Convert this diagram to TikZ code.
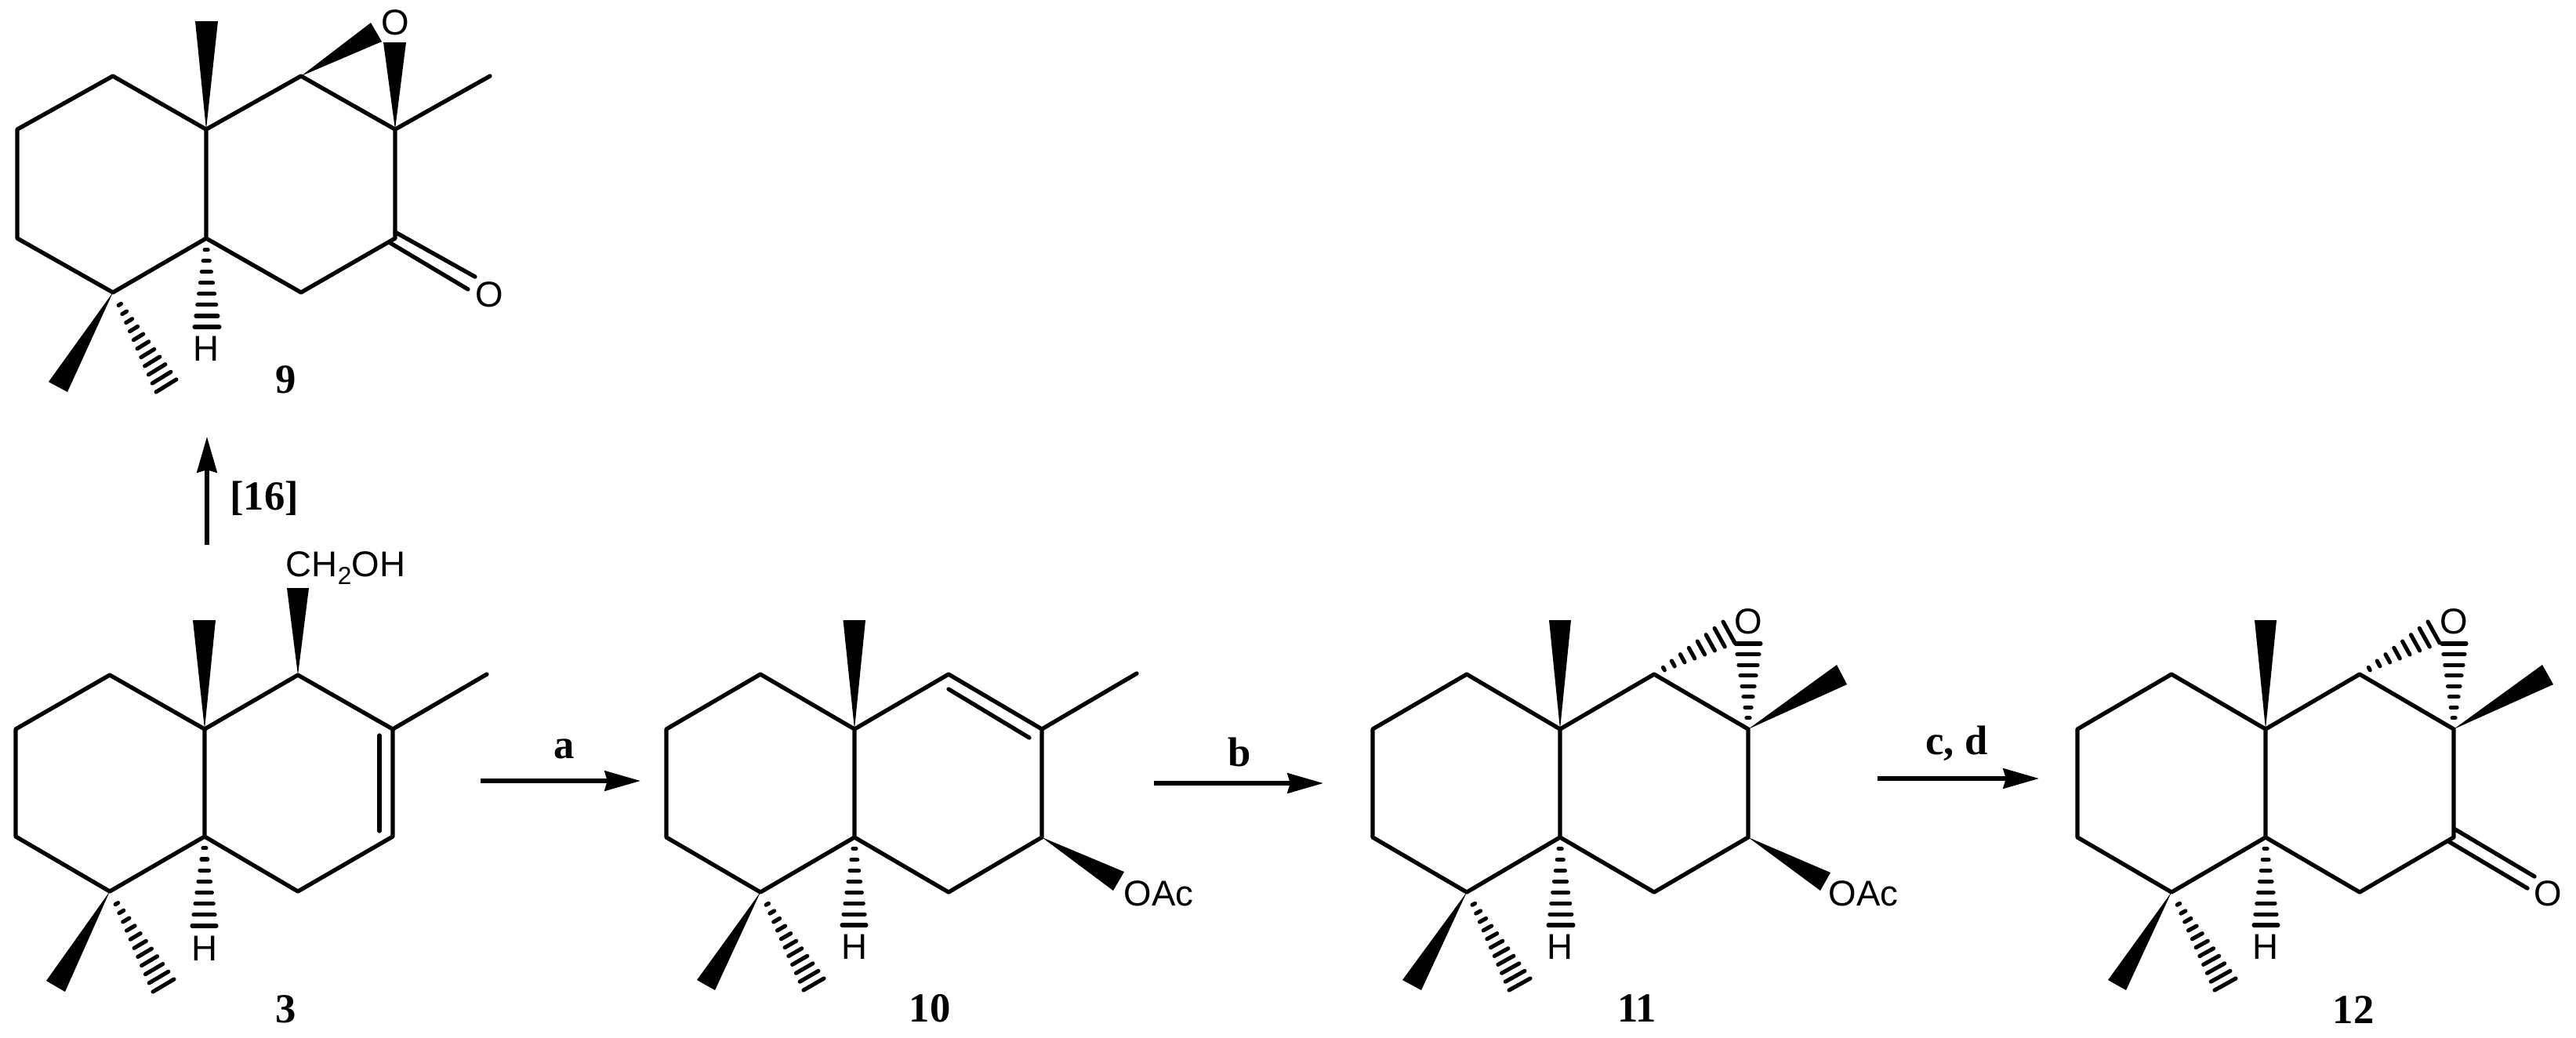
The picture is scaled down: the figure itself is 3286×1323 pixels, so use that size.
\documentclass[tikz,border=0pt]{standalone}
\usepackage{fontspec}
\setmainfont{Liberation Serif}
\newfontfamily\atomfont{Liberation Sans}
\usetikzlibrary{arrows.meta,calc}
\tikzset{
  bond/.style={line width=3pt,line join=round,line cap=round},
  hashline/.style={line width=2.9pt,line cap=round},
  atom/.style={inner sep=0pt,font=\atomfont\fontsize{26}{26}\selectfont},
  cmpd/.style={inner sep=0pt,font=\bfseries\fontsize{30}{30}\selectfont},
  rxn/.style={line width=2.9pt,-{Stealth[length=26pt,width=14.5pt,inset=2pt]}}
}
\newcommand\skeleton[6]{%
  \coordinate (#1a) at (#3,\yT);
  \coordinate (#1b) at (#2,\yU);
  \coordinate (#1c) at (#2,\yL);
  \coordinate (#1d) at (#3,\yB);
  \coordinate (#1e) at (#4,\yL);
  \coordinate (#1f) at (#4,\yU);
  \coordinate (#1g) at (#5,\yT);
  \coordinate (#1h) at (#6,\yU);
  \coordinate (#1i) at (#6,\yL);
  \coordinate (#1j) at (#5,\yB);
  \draw[bond] (#1b)--(#1a)--(#1f)--(#1e)--(#1d)--(#1c)--cycle;
  \draw[bond] (#1f)--(#1g)--(#1h)--(#1i)--(#1j)--(#1e);
}
\newcommand\wedgebond[3]{\fill (#1) -- (#2) -- (#3) -- cycle;}
\newcommand\hashbond[4]{%
  \foreach \k in {1,...,#4}{%
    \pgfmathsetmacro\hT{0.13+0.87*(\k-1)/(#4-1)}
    \draw[hashline] ($(#1)!\hT!(#2)$) -- ($(#1)!\hT!(#3)$);
  }%
}
\begin{document}
\begin{tikzpicture}[x=0.02cm,y=-0.02cm]
\useasboundingbox (0,0) rectangle (3286,1323);

% ---------- 9 ----------
\def\yT{97}\def\yU{165}\def\yL{304}\def\yB{373}
\skeleton{n}{22}{144}{263}{384}{504}
\wedgebond{nf}{249,27}{278,27}
\wedgebond{ng}{473,29}{487,53}
\wedgebond{nh}{489,54}{518,54}
\coordinate (nMe) at (625,97);
\draw[bond] (nh)--(nMe);
\node[atom] (nO) at (504,29) {O};
\node[atom] (nO2) at (624,376) {O};
\coordinate (nd1) at (504,296); \coordinate (nd2) at (606,353);
\coordinate (nd3) at (498,310); \coordinate (nd4) at (597,369);
\draw[bond] (nd1)--(nd2) (nd3)--(nd4);
\wedgebond{nd}{62,487}{86,500}
\hashbond{nd}{225,484}{199,500}{11}
\hashbond{ne}{248,417}{280,417}{8}
\node[atom] (nH) at (263,445) {H};
\node[cmpd] (nlabel) at (365,484) {9};

% ---------- 3 ----------
\def\yT{861}\def\yU{930}\def\yL{1067}\def\yB{1137}
\skeleton{t}{20}{140}{261}{380}{501}
\wedgebond{tf}{246,791}{275,791}
\wedgebond{tg}{366,750}{394,750}
\coordinate (tMe) at (621,860);
\draw[bond] (th)--(tMe);
\coordinate (td1) at (484,938); \coordinate (td2) at (484,1060);
\draw[bond] (td1)--(td2);
\node[atom] (tCH) at (441,725) {CH\raisebox{-0.22em}{\fontsize{18}{18}\selectfont 2}OH};
\wedgebond{td}{59,1251}{83,1265}
\hashbond{td}{222,1249}{195,1265}{11}
\hashbond{te}{245,1181}{276,1181}{8}
\node[atom] (tH) at (261,1210) {H};
\node[cmpd] (tlabel) at (365,1287) {3};

% ---------- 10 ----------
\def\yT{860}\def\yU{930}\def\yL{1068}\def\yB{1138}
\skeleton{u}{850}{970}{1090}{1210}{1329}
\wedgebond{uf}{1075.5,791}{1104,791}
\coordinate (uMe) at (1450,859);
\draw[bond] (uh)--(uMe);
\coordinate (ud1) at (1210,879); \coordinate (ud2) at (1313,941);
\draw[bond] (ud1)--(ud2);
\wedgebond{ui}{1434,1112}{1420,1136}
\node[atom] (uOAc) at (1478,1140) {OAc};
\wedgebond{ud}{889,1250}{912,1263}
\hashbond{ud}{1051,1248}{1025,1263}{11}
\hashbond{ue}{1074,1180}{1105,1180}{8}
\node[atom] (uH) at (1090,1208) {H};
\node[cmpd] (ulabel) at (1186,1286) {10};

% ---------- 11 ----------
\skeleton{v}{1751}{1871}{1990}{2110}{2230}
\wedgebond{vf}{1976,791}{2004,791}
\node[atom] (vO) at (2230,793) {O};
\hashbond{vg}{2198,793}{2213,820}{8}
\hashbond{vh}{2214,821}{2246,821}{8}
\wedgebond{vh}{2343,848}{2356,873}
\wedgebond{vi}{2335,1113}{2322,1136}
\node[atom] (vOAc) at (2377,1140) {OAc};
\wedgebond{vd}{1789,1250}{1813,1263}
\hashbond{vd}{1952,1248}{1925,1263}{11}
\hashbond{ve}{1975,1180}{2007,1180}{8}
\node[atom] (vH) at (1990,1208) {H};
\node[cmpd] (vlabel) at (2088,1286) {11};

% ---------- 12 ----------
\skeleton{w}{2650}{2770}{2890}{3010}{3130}
\wedgebond{wf}{2876,791}{2904,791}
\node[atom] (wO) at (3130,793) {O};
\hashbond{wg}{3097,793}{3112,820}{8}
\hashbond{wh}{3115,821}{3146,821}{8}
\wedgebond{wh}{3243,848}{3257,873}
\coordinate (wd1) at (3132,1058); \coordinate (wd2) at (3233,1118);
\coordinate (wd3) at (3123,1073); \coordinate (wd4) at (3224,1133);
\draw[bond] (wd1)--(wd2) (wd3)--(wd4);
\node[atom] (wO2) at (3250,1140) {O};
\wedgebond{wd}{2689,1250}{2712,1263}
\hashbond{wd}{2852,1248}{2825,1263}{11}
\hashbond{we}{2875,1180}{2906,1180}{8}
\node[atom] (wH) at (2890,1208) {H};
\node[cmpd] (wlabel) at (3002,1288) {12};

% ---------- arrows ----------
\coordinate (r1s) at (264,695); \coordinate (r1e) at (264,557);
\draw[rxn] (r1s)--(r1e);
\node[cmpd] (r1l) at (337,636) {[16]};
\coordinate (r2s) at (613,996); \coordinate (r2e) at (817,996);
\draw[rxn] (r2s)--(r2e);
\node[cmpd] (r2l) at (720,955) {a};
\coordinate (r3s) at (1472,999); \coordinate (r3e) at (1688,999);
\draw[rxn] (r3s)--(r3e);
\node[cmpd] (r3l) at (1581,959) {b};
\coordinate (r4s) at (2395,993); \coordinate (r4e) at (2601,993);
\draw[rxn] (r4s)--(r4e);
\node[cmpd] (r4l) at (2496,948) {c, d};
\end{tikzpicture}
\end{document}
